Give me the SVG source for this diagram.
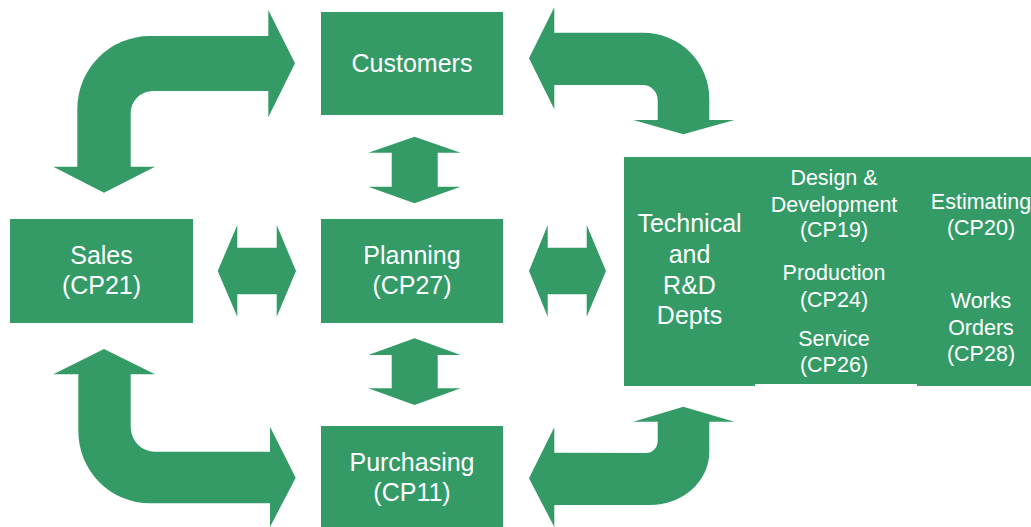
<svg xmlns="http://www.w3.org/2000/svg" width="1031" height="527" viewBox="0 0 1031 527">
<style>
.box{fill:#349B67}
.arr{fill:#349B67}
text{font-family:"Liberation Sans",Arial,sans-serif;fill:#fff;text-anchor:middle}
.t25{font-size:25px}
.t21{font-size:21.5px}
</style>
<rect width="1031" height="527" fill="#fff"/>
<g id="connectors">
<path class="arr" d="M104,192.7 L155,166.7 L130.7,166.7 L130.7,113 A22,22 0 0 1 152.7,91 L268.3,91 L268.3,117.3 L295,63.3 L268.3,10 L268.3,36 L150,36 A72.7,73 0 0 0 77.3,109 L77.3,166.7 L53.3,166.7 Z"/>
<path class="arr" d="M529,58.3 L554.3,7.3 L554.3,32.7 L643,32.7 A66.3,66 0 0 1 709.3,98.7 L709.3,120 L734.3,120 L683.3,134.3 L633.3,120 L657.7,120 L657.7,100 A15,15 0 0 0 642.7,85 L554.3,85 L554.3,109.3 Z"/>
<path class="arr" d="M104,349 L155,374.3 L130.7,374.3 L130.7,427 A24,24.7 0 0 0 154.7,451.7 L270,451.7 L270,426.7 L295.7,477.7 L270,527 L270,503.3 L150,503.3 A71.7,72 0 0 1 78.3,431.3 L78.3,374.3 L53.3,374.3 Z"/>
<path class="arr" d="M529,478.3 L554.3,427.3 L554.3,452.7 L646,453 A11.7,12 0 0 0 657.7,441 L657.7,421.7 L633.3,421.7 L683.3,406.7 L734.3,421.7 L709.3,421.7 L709.3,452 A59.3,53 0 0 1 650,505 L554.3,505 L554.3,527 Z"/>
<path class="arr" d="M414.5,136.7 L460.7,152.7 L437.7,152.7 L437.7,186.7 L460.7,186.7 L414.5,203.3 L368.3,186.7 L391.7,186.7 L391.7,152.7 L368.3,152.7 Z"/>
<path class="arr" d="M414.5,338.3 L460.7,355 L437.7,355 L437.7,388.3 L460.7,388.3 L414.5,405 L368.3,388.3 L391.7,388.3 L391.7,355 L368.3,355 Z"/>
<path class="arr" d="M217.7,271 L237.3,225 L237.3,247.7 L276.7,247.7 L276.7,225 L296,271 L276.7,316.7 L276.7,294.3 L237.3,294.3 L237.3,316.7 Z"/>
<path class="arr" d="M529,271 L547.7,225 L547.7,247.7 L586.7,247.7 L586.7,225 L606,271 L586.7,316.7 L586.7,294.3 L547.7,294.3 L547.7,316.7 Z"/>
</g>
<g id="customers">
<rect class="box" x="321" y="12" width="182" height="103"/>
<text class="t25" x="412" y="72">Customers</text>
</g>
<g id="planning">
<rect class="box" x="321" y="219" width="182" height="104"/>
<text class="t25" x="412" y="264">Planning</text>
<text class="t25" x="412" y="294">(CP27)</text>
</g>
<g id="sales">
<rect class="box" x="10" y="219" width="183" height="104"/>
<text class="t25" x="101.5" y="264">Sales</text>
<text class="t25" x="101.5" y="294">(CP21)</text>
</g>
<g id="purchasing">
<rect class="box" x="321" y="426" width="182" height="101"/>
<text class="t25" x="412" y="471">Purchasing</text>
<text class="t25" x="412" y="501">(CP11)</text>
</g>
<g id="technical">
<rect class="box" x="624" y="157" width="131" height="229"/>
<rect class="box" x="754" y="157" width="164" height="227"/>
<rect class="box" x="917" y="157" width="114" height="229"/>
<text class="t25" x="689.5" y="232">Technical</text>
<text class="t25" x="689.5" y="263">and</text>
<text class="t25" x="689.5" y="293.5">R&amp;D</text>
<text class="t25" x="689.5" y="324">Depts</text>
<text class="t21" x="834" y="185">Design &amp;</text>
<text class="t21" x="834" y="211.5">Development</text>
<text class="t21" x="834" y="237">(CP19)</text>
<text class="t21" x="834" y="280">Production</text>
<text class="t21" x="834" y="306.5">(CP24)</text>
<text class="t21" x="834" y="346">Service</text>
<text class="t21" x="834" y="372">(CP26)</text>
<text class="t21" x="981" y="208.5">Estimating</text>
<text class="t21" x="981" y="235">(CP20)</text>
<text class="t21" x="981" y="307.5">Works</text>
<text class="t21" x="981" y="335">Orders</text>
<text class="t21" x="981" y="361">(CP28)</text>
</g>
</svg>
